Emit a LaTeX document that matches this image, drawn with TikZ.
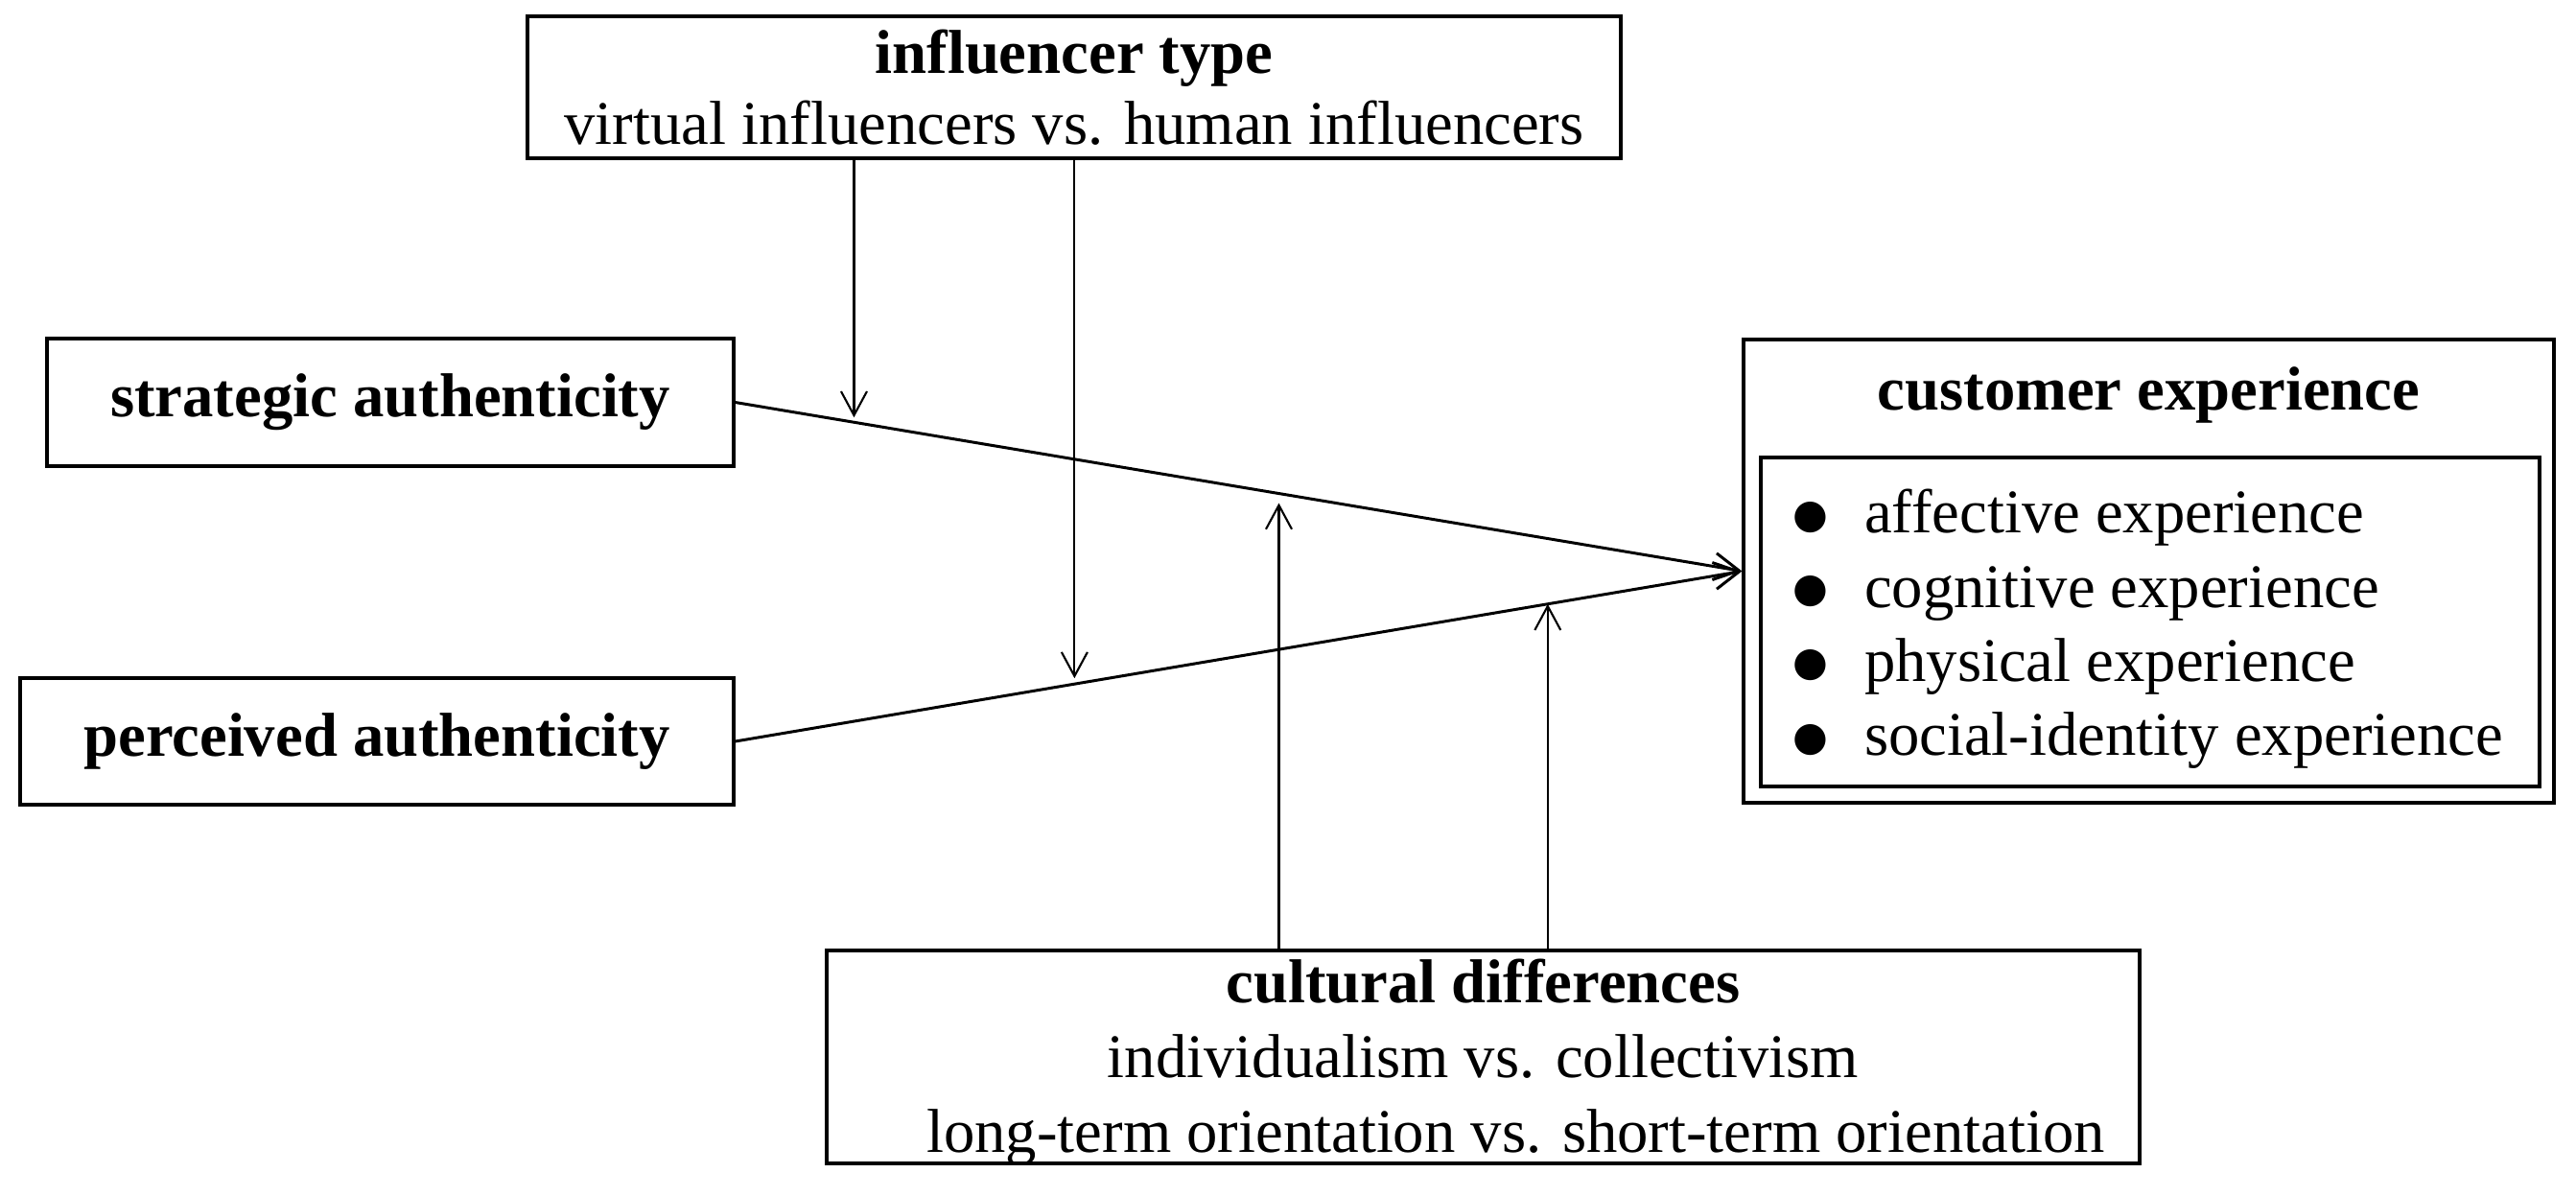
\documentclass[tikz,border=0pt]{standalone}
\usepackage{fontspec}
\setmainfont{Liberation Serif}
\newfontfamily\symfont{DejaVu Sans}
\usetikzlibrary{arrows.meta,positioning,calc}
\newcommand{\listdot}{\raisebox{1.6pt}{\symfont\fontsize{12}{12}\selectfont ●}\hspace{0.58em}}
\tikzset{
  varbox/.style={
    rectangle,
    draw=black,
    line width=0.9pt,
    align=center,
    inner sep=0pt,
    font=\fontsize{18.4}{21.8}\selectfont
  },
  titletext/.style={inner sep=0pt,font=\fontsize{18.4}{21.8}\selectfont\bfseries},
  mainar/.style={-{Straight Barb[length=2.6mm,width=2.8mm]},line width=0.85pt},
  modar/.style={-{Straight Barb[length=2.5mm,width=2.7mm]},line width=0.6pt}
}

\begin{document}
\begin{tikzpicture}
  \useasboundingbox (0,0) rectangle (26.86,12.46);

  % variables
  \node[varbox,minimum width=11.40cm,minimum height=1.48cm] (type) at (11.20,11.55)
    {\textbf{influencer type}\\[-0.6pt]virtual influencers vs. human influencers};
  \node[varbox,minimum width=7.16cm,minimum height=1.33cm] (strat) at (4.07,8.265)
    {\textbf{strategic authenticity}};
  \node[varbox,minimum width=7.44cm,minimum height=1.32cm] (perc) at (3.93,4.73)
    {\textbf{perceived authenticity}};
  \node[varbox,minimum width=8.45cm,minimum height=4.83cm] (cx) at (22.405,6.505) {};
  \node[titletext] (cxtitle) at (22.405,8.34) {customer experience};
  \node[varbox,minimum width=8.12cm,minimum height=3.43cm] (cxlist) at (22.42,5.975) {};
  \node[varbox,draw=none,align=left] (cxitems) at (22.40,5.90)
    {\listdot affective experience\\[0.2pt]
     \listdot cognitive experience\\[0.2pt]
     \listdot physical experience\\[0.2pt]
     \listdot social-identity experience};
  \node[varbox,minimum width=13.69cm,minimum height=2.22cm] (cult) at (15.465,1.44) {};
  \node[varbox,draw=none] (cultitems) at (15.465,1.385)
    {\textbf{cultural differences}\\[0.4pt]individualism vs. collectivism\\[0.4pt]\hspace*{6.8mm}long-term orientation vs. short-term orientation};

  % main paths
  \draw[mainar] (strat.east) -- (cx.west);
  \draw[mainar] (perc.east) -- (cx.west);

  % moderation points
  \coordinate (s1) at ($(strat.east)!0.118!(cx.west)$);
  \coordinate (s2) at ($(strat.east)!0.540!(cx.west)$);
  \coordinate (p1) at ($(perc.east)!0.337!(cx.west)$);
  \coordinate (p2) at ($(perc.east)!0.807!(cx.west)$);

  \draw[modar,shorten >=0.5mm] (type.south -| s1) -- (s1);
  \draw[modar,shorten >=0.6mm] (type.south -| p1) -- (p1);
  \draw[modar,shorten >=1mm] (cult.north -| s2) -- (s2);
  \draw[modar] (cult.north -| p2) -- (p2);
\end{tikzpicture}
\end{document}
